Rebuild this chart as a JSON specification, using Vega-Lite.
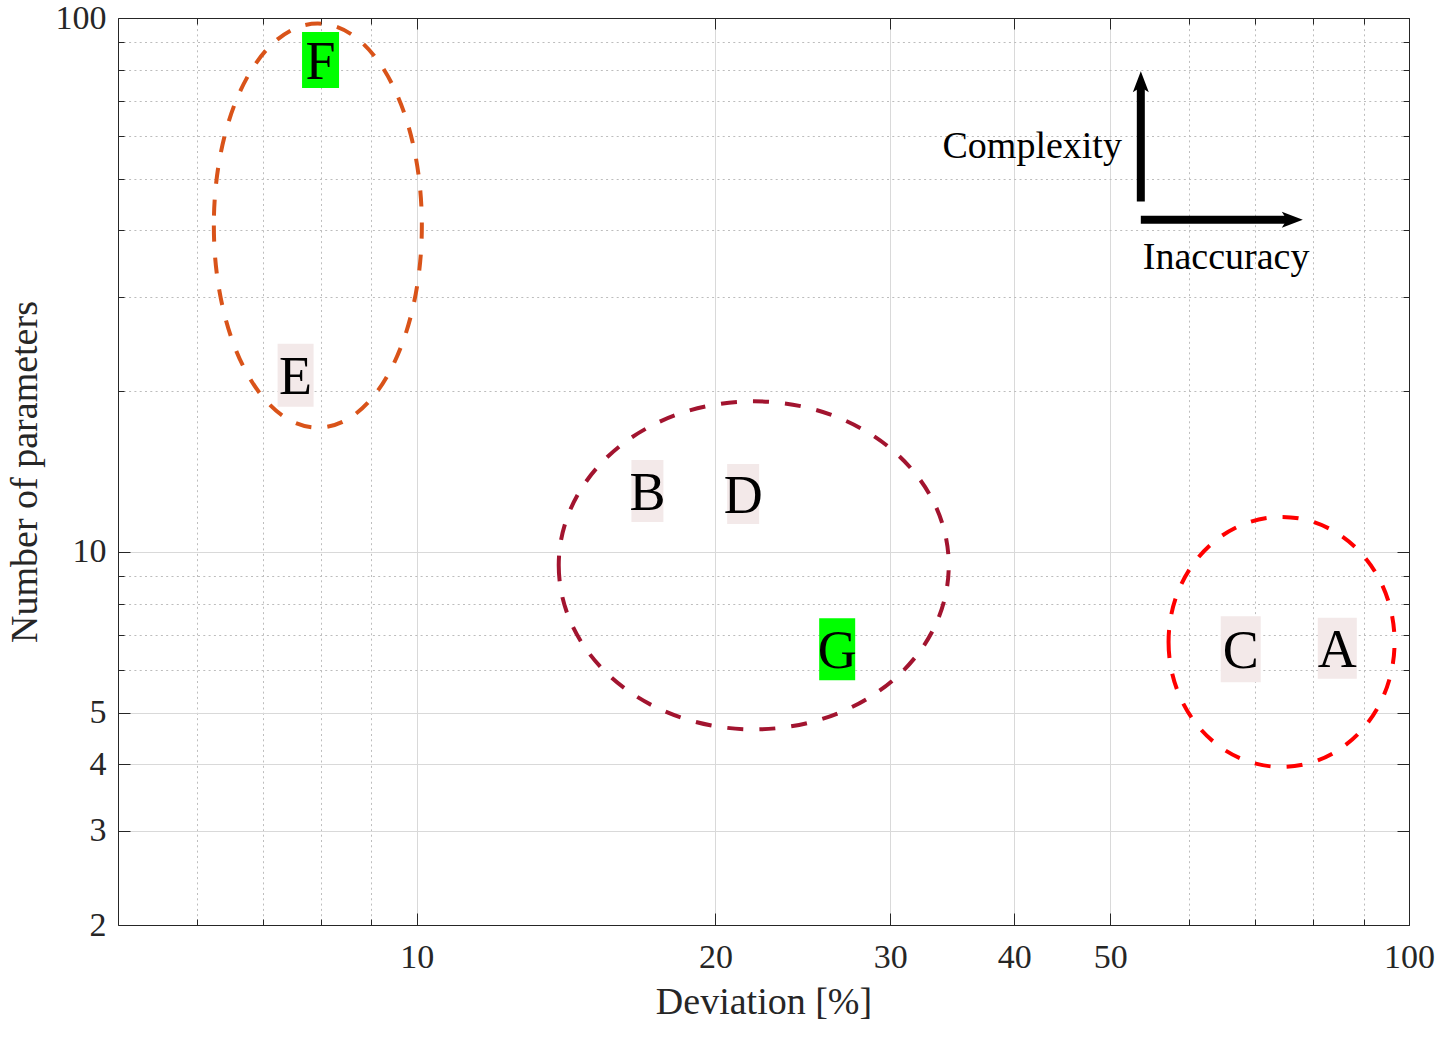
{
  "$schema": "https://vega.github.io/schema/vega-lite/v6.json",
  "width": 1291,
  "height": 907,
  "autosize": {"type": "none"},
  "padding": {"left": 118, "top": 18, "right": 37, "bottom": 117},
  "background": "white",
  "config": {"view": {"stroke": null}, "font": "Liberation Serif"},
  "datasets": {
    "clusters": [
      {"cluster": "E-F", "deviation": 7.95, "parameters": 40.85},
      {"cluster": "B-D-G", "deviation": 21.86, "parameters": 9.434},
      {"cluster": "A-C", "deviation": 74.4, "parameters": 6.78}
    ],
    "models": [
      {"label": "F", "kind": "best", "deviation": 8.0, "parameters": 83.4},
      {"label": "E", "kind": "other", "deviation": 7.55, "parameters": 21.42},
      {"label": "B", "kind": "other", "deviation": 17.08, "parameters": 13.0},
      {"label": "D", "kind": "other", "deviation": 21.33, "parameters": 12.83},
      {"label": "G", "kind": "best", "deviation": 26.53, "parameters": 6.57},
      {"label": "C", "kind": "other", "deviation": 67.67, "parameters": 6.57},
      {"label": "A", "kind": "other", "deviation": 84.67, "parameters": 6.6}
    ],
    "shafts": [
      {"name": "up", "x": 53.67, "y": 45.3, "x2": 53.67, "y2": 74.8},
      {"name": "right", "x": 53.67, "y": 41.88, "x2": 75.65, "y2": 41.88}
    ],
    "heads": [
      {"name": "up", "x": 53.67, "y": 79.5},
      {"name": "right", "x": 78.16, "y": 41.88}
    ],
    "notes": [
      {"text": "Complexity", "side": "left", "x": 51.37, "y": 54.74},
      {"text": "Inaccuracy", "side": "right", "x": 53.92, "y": 33.9}
    ]
  },
  "layer": [
    {
      "data": {"name": "clusters"},
      "mark": {"type": "point", "filled": false, "size": 4, "strokeWidth": 4, "strokeDash": [16, 16], "opacity": 1},
      "encoding": {
        "x": {
          "field": "deviation", "type": "quantitative",
          "scale": {"type": "log", "domain": [5, 100], "nice": false},
          "axis": {
            "orient": "bottom",
            "values": [6, 7, 8, 9, 10, 20, 30, 40, 50, 60, 70, 80, 90, 100],
            "format": "d",
            "labelExpr": "indexof([10,20,30,40,50,100], datum.value) >= 0 ? datum.label : ''",
            "labelFont": "Liberation Serif", "labelFontSize": 34, "labelColor": "#262626",
            "labelPadding": 27, "labelFlush": false, "labelOverlap": false,
            "tickSize": {"condition": {"test": "indexof([10,20,30,40,50,100], datum.value) >= 0", "value": -12}, "value": -6},
            "tickColor": "#262626", "tickWidth": 1,
            "domainColor": "#262626", "domainWidth": 1,
            "grid": true,
            "gridColor": {"condition": {"test": "indexof([10,20,30,40,50,100], datum.value) >= 0", "value": "#d9d9d9"}, "value": "#bdbdbd"},
            "gridDash": {"condition": {"test": "indexof([10,20,30,40,50,100], datum.value) >= 0", "value": []}, "value": [2, 3.3]},
            "gridWidth": 1,
            "title": "Deviation [%]", "titleFont": "Liberation Serif", "titleFontSize": 38, "titleFontWeight": "normal",
            "titleColor": "#262626", "titleY": 88, "titleBaseline": "alphabetic"
          }
        },
        "y": {
          "field": "parameters", "type": "quantitative",
          "scale": {"type": "log", "domain": [2, 100], "nice": false},
          "axis": {
            "orient": "left",
            "values": [2, 3, 4, 5, 6, 7, 8, 9, 10, 20, 30, 40, 50, 60, 70, 80, 90, 100],
            "format": "d",
            "labelExpr": "indexof([2,3,4,5,10,100], datum.value) >= 0 ? datum.label : ''",
            "labelFont": "Liberation Serif", "labelFontSize": 34, "labelColor": "#262626",
            "labelPadding": 24, "labelOverlap": false,
            "tickSize": {"condition": {"test": "indexof([2,3,4,5,10,100], datum.value) >= 0", "value": -12}, "value": -6},
            "tickColor": "#262626", "tickWidth": 1,
            "domainColor": "#262626", "domainWidth": 1,
            "grid": true,
            "gridColor": {"condition": {"test": "indexof([2,3,4,5,10,100], datum.value) >= 0", "value": "#d9d9d9"}, "value": "#bdbdbd"},
            "gridDash": {"condition": {"test": "indexof([2,3,4,5,10,100], datum.value) >= 0", "value": []}, "value": [2, 3.3]},
            "gridWidth": 1,
            "title": "Number of parameters", "titleFont": "Liberation Serif", "titleFontSize": 38, "titleFontWeight": "normal",
            "titleColor": "#262626", "titleX": -82, "titleBaseline": "alphabetic"
          }
        },
        "shape": {
          "field": "cluster", "type": "nominal", "legend": null,
          "scale": {
            "domain": ["E-F", "B-D-G", "A-C"],
            "range": [
              "M-104,0A104,202 0 1,0 104,0A104,202 0 1,0 -104,0Z",
              "M-195,0A195,164 0 1,0 195,0A195,164 0 1,0 -195,0Z",
              "M-113,0A113,125 0 1,0 113,0A113,125 0 1,0 -113,0Z"
            ]
          }
        },
        "color": {
          "field": "cluster", "type": "nominal", "legend": null,
          "scale": {"domain": ["E-F", "B-D-G", "A-C"], "range": ["#d95319", "#a2142f", "#ff0000"]}
        }
      }
    },
    {
      "data": {"name": "models"},
      "mark": {"type": "point", "filled": true, "size": 4, "strokeWidth": 0, "opacity": 1},
      "encoding": {
        "x": {
          "field": "deviation", "type": "quantitative",
          "axis": {
            "orient": "top", "values": [6, 7, 8, 9, 10, 20, 30, 40, 50, 60, 70, 80, 90, 100],
            "labels": false, "grid": false, "title": null,
            "tickSize": {"condition": {"test": "indexof([10,20,30,40,50,100], datum.value) >= 0", "value": -11}, "value": -6},
            "tickColor": "#262626", "tickWidth": 1, "domainColor": "#262626", "domainWidth": 1
          }
        },
        "y": {
          "field": "parameters", "type": "quantitative",
          "axis": {
            "orient": "right", "values": [2, 3, 4, 5, 6, 7, 8, 9, 10, 20, 30, 40, 50, 60, 70, 80, 90, 100],
            "labels": false, "grid": false, "title": null,
            "tickSize": {"condition": {"test": "indexof([2,3,4,5,10,100], datum.value) >= 0", "value": -12}, "value": -6},
            "tickColor": "#262626", "tickWidth": 1, "domainColor": "#262626", "domainWidth": 1
          }
        },
        "shape": {
          "field": "label", "type": "nominal", "legend": null,
          "scale": {
            "domain": ["F", "E", "B", "D", "G", "C", "A"],
            "range": [
              "M-18.5,-28H18.5V28H-18.5Z",
              "M-18,-31.5H18V31.5H-18Z",
              "M-16,-31H16V31H-16Z",
              "M-16,-30H16V30H-16Z",
              "M-18,-31H18V31H-18Z",
              "M-20,-33H20V33H-20Z",
              "M-19.5,-30.5H19.5V30.5H-19.5Z"
            ]
          }
        },
        "color": {
          "field": "kind", "type": "nominal", "legend": null,
          "scale": {"domain": ["best", "other"], "range": ["#00ff00", "#f3e9e9"]}
        }
      }
    },
    {
      "data": {"name": "models"},
      "mark": {"type": "text", "font": "Liberation Serif", "fontSize": 54, "baseline": "middle", "align": "center", "dy": 3, "color": "#000000"},
      "encoding": {
        "x": {"field": "deviation", "type": "quantitative", "axis": null},
        "y": {"field": "parameters", "type": "quantitative", "axis": null},
        "text": {"field": "label", "type": "nominal"}
      }
    },
    {
      "data": {"name": "shafts"},
      "mark": {"type": "rule", "strokeWidth": 8, "color": "#000000", "strokeCap": "butt"},
      "encoding": {
        "x": {"field": "x", "type": "quantitative", "axis": null},
        "y": {"field": "y", "type": "quantitative", "axis": null},
        "x2": {"field": "x2"},
        "y2": {"field": "y2"}
      }
    },
    {
      "data": {"name": "heads"},
      "mark": {"type": "point", "filled": true, "size": 4, "strokeWidth": 0, "opacity": 1, "color": "#000000"},
      "encoding": {
        "x": {"field": "x", "type": "quantitative", "axis": null},
        "y": {"field": "y", "type": "quantitative", "axis": null},
        "shape": {
          "field": "name", "type": "nominal", "legend": null,
          "scale": {"domain": ["up", "right"], "range": ["M0,0L8,21L0,16L-8,21Z", "M0,0L-21,8L-16,0L-21,-8Z"]}
        }
      }
    },
    {
      "data": {"name": "notes"},
      "transform": [{"filter": "datum.side === 'left'"}],
      "mark": {"type": "text", "font": "Liberation Serif", "fontSize": 38, "align": "right", "baseline": "alphabetic", "color": "#000000"},
      "encoding": {
        "x": {"field": "x", "type": "quantitative", "axis": null},
        "y": {"field": "y", "type": "quantitative", "axis": null},
        "text": {"field": "text", "type": "nominal"}
      }
    },
    {
      "data": {"name": "notes"},
      "transform": [{"filter": "datum.side === 'right'"}],
      "mark": {"type": "text", "font": "Liberation Serif", "fontSize": 38, "align": "left", "baseline": "alphabetic", "color": "#000000"},
      "encoding": {
        "x": {"field": "x", "type": "quantitative", "axis": null},
        "y": {"field": "y", "type": "quantitative", "axis": null},
        "text": {"field": "text", "type": "nominal"}
      }
    }
  ],
  "resolve": {
    "axis": {"x": "independent", "y": "independent"},
    "scale": {"shape": "independent", "color": "independent"}
  }
}
